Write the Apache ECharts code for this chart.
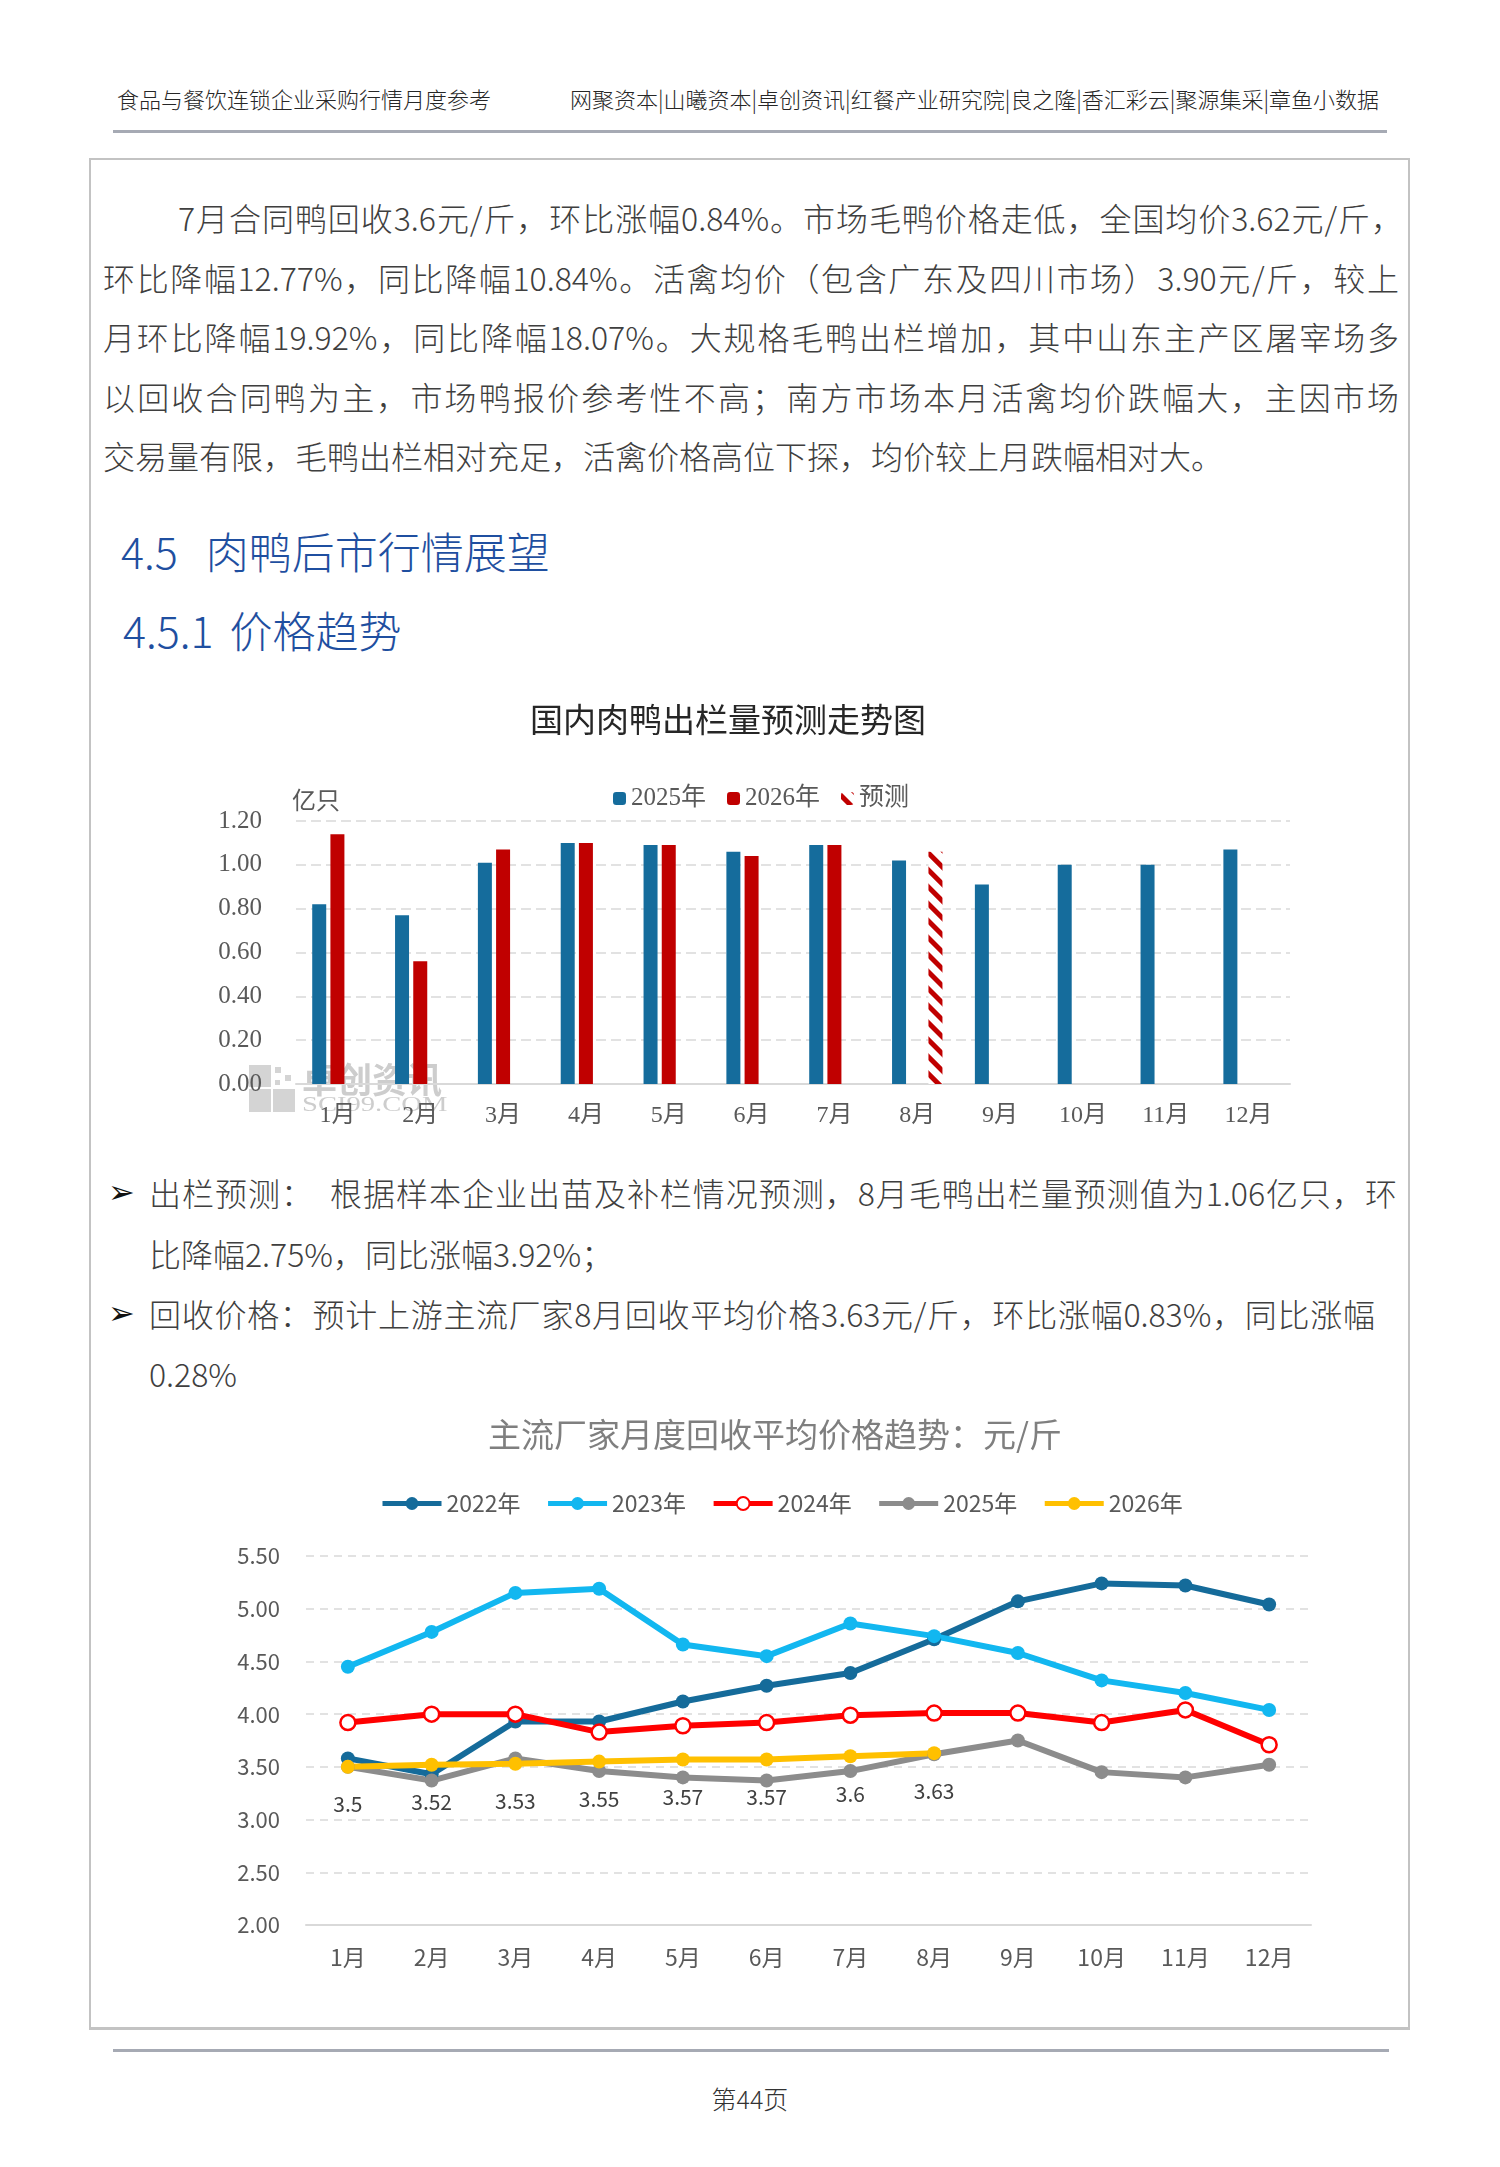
<!DOCTYPE html>
<html>
<head>
<meta charset="utf-8">
<title>肉鸭后市行情展望</title>
<script src="https://cdn.jsdelivr.net/npm/echarts@6/dist/echarts.min.js"></script>
<style>
    body { margin: 0; background: #fff; }
    #page { position: relative; width: 1500px; height: 2167px; font-family: "Noto Sans CJK SC Light", "Noto Sans CJK SC", sans-serif; font-weight: 300; color: #3f3f3f; overflow: hidden; }
    .t { position: absolute; white-space: nowrap; }
    .hd { top: 84px; font-size: 22px; line-height: 28px; color: #262626; }
    .rule { position: absolute; background: #a6aab4; height: 3px; }
    .box { position: absolute; left: 89px; top: 158px; width: 1321px; height: 1872px; box-sizing: border-box; border: 2px solid #c3c3c3; border-bottom-width: 3px; }
    .para { left: 103px; width: 1296px; font-size: 32px; line-height: 40px; text-align: justify; text-align-last: justify; }
    .h { font-size: 43px; line-height: 54px; color: #1f4fa0; }
    .bul { left: 149px; width: 1248px; font-size: 32px; line-height: 40px; text-align: justify; text-align-last: justify; }
    .arrow { left: 108px; font-size: 32px; line-height: 40px; font-family: "DejaVu Sans", sans-serif; color: #111; }
</style>
</head>
<body>
<div id="page">
    <div class="t hd" style="left:117px;">食品与餐饮连锁企业采购行情月度参考</div>
    <div class="t hd" style="right:121px;">网聚资本|山曦资本|卓创资讯|红餐产业研究院|良之隆|香汇彩云|聚源集采|章鱼小数据</div>
    <div class="rule" style="left:113px;top:130px;width:1274px;"></div>

    <div class="box"></div>

    <!-- 正文 -->
    <div class="t para" style="top:197px;padding-left:75px;width:1225px;">7月合同鸭回收3.6元/斤，环比涨幅0.84%。市场毛鸭价格走低，全国均价3.62元/斤，</div>
    <div class="t para" style="top:257px;">环比降幅12.77%，同比降幅10.84%。活禽均价（包含广东及四川市场）3.90元/斤，较上</div>
    <div class="t para" style="top:316px;">月环比降幅19.92%，同比降幅18.07%。大规格毛鸭出栏增加，其中山东主产区屠宰场多</div>
    <div class="t para" style="top:376px;">以回收合同鸭为主，市场鸭报价参考性不高；南方市场本月活禽均价跌幅大，主因市场</div>
    <div class="t para" style="top:435px;text-align-last:left;">交易量有限，毛鸭出栏相对充足，活禽价格高位下探，均价较上月跌幅相对大。</div>

    <div class="t h" style="left:121px;top:523px;">4.5<span style="margin-left:28px;">肉鸭后市行情展望</span></div>
    <div class="t h" style="left:123px;top:602px;">4.5.1<span style="margin-left:16px;">价格趋势</span></div>

    <div id="bar" style="position:absolute;left:90px;top:690px;width:1335px;height:460px;"></div>

    <div class="t arrow" style="top:1172px;">➢</div>
    <div class="t bul" style="top:1172px;">出栏预测：&nbsp;&nbsp;根据样本企业出苗及补栏情况预测，8月毛鸭出栏量预测值为1.06亿只，环</div>
    <div class="t bul" style="top:1233px;text-align-last:left;">比降幅2.75%，同比涨幅3.92%；</div>
    <div class="t arrow" style="top:1293px;">➢</div>
    <div class="t bul" style="top:1293px;width:1226px;">回收价格：预计上游主流厂家8月回收平均价格3.63元/斤，环比涨幅0.83%，同比涨幅</div>
    <div class="t bul" style="top:1353px;text-align-last:left;">0.28%</div>

    <div id="line" style="position:absolute;left:90px;top:1400px;width:1335px;height:600px;"></div>

    <div class="rule" style="left:113px;top:2049px;width:1276px;"></div>
    <div class="t" style="left:0;width:1500px;top:2082px;text-align:center;font-size:25px;line-height:32px;color:#333;">第44页</div>
</div>

<script type="text/javascript">
    // 出栏量（亿只）
    var months = ['1月', '2月', '3月', '4月', '5月', '6月', '7月', '8月', '9月', '10月', '11月', '12月'];
    var out2025 = [0.82, 0.77, 1.01, 1.10, 1.09, 1.06, 1.09, 1.02, 0.91, 1.00, 1.00, 1.07];
    var out2026 = [1.14, 0.56, 1.07, 1.10, 1.09, 1.04, 1.09, '-', '-', '-', '-', '-'];
    var outForecast = ['-', '-', '-', '-', '-', '-', '-', 1.06, '-', '-', '-', '-'];

    // 主流厂家月度回收平均价格（元/斤）
    var price2022 = [3.58, 3.43, 3.93, 3.93, 4.12, 4.27, 4.39, 4.71, 5.07, 5.24, 5.22, 5.04];
    var price2023 = [4.45, 4.78, 5.15, 5.19, 4.66, 4.55, 4.86, 4.74, 4.58, 4.32, 4.20, 4.04];
    var price2024 = [3.92, 4.00, 4.00, 3.83, 3.89, 3.92, 3.99, 4.01, 4.01, 3.92, 4.04, 3.71];
    var price2025 = [3.50, 3.37, 3.58, 3.46, 3.40, 3.37, 3.46, 3.62, 3.75, 3.45, 3.40, 3.52];
    var price2026 = [3.5, 3.52, 3.53, 3.55, 3.57, 3.57, 3.6, 3.63];

    var serif = "'Liberation Serif', 'Noto Sans CJK SC', serif";
    var sans = "'Noto Sans CJK SC', sans-serif";

    // 出栏量柱状图
    var barChart = echarts.init(document.getElementById('bar'));
    barChart.setOption({
        animation: false,
        title: {
            text: '国内肉鸭出栏量预测走势图',
            left: 435,
            top: 8,
            textStyle: { fontFamily: sans, fontSize: 33, fontWeight: 'normal', color: '#262626' }
        },
        legend: {
            left: 518,
            top: 91,
            itemWidth: 13,
            itemHeight: 13,
            itemGap: 21,
            textStyle: { fontFamily: serif, fontSize: 25, color: '#595959' },
            data: ['2025年', '2026年', '预测']
        },
        grid: { left: 206, right: 135, top: 131, bottom: 66 },
        xAxis: {
            type: 'category',
            data: months,
            axisTick: { show: false },
            axisLine: { lineStyle: { color: '#d9d9d9', width: 2 } },
            axisLabel: { fontFamily: serif, fontSize: 24, color: '#595959', margin: 20 }
        },
        yAxis: {
            type: 'value',
            min: 0,
            max: 1.2,
            interval: 0.2,
            name: '亿只',
            nameGap: 6,
            nameTextStyle: { fontFamily: serif, fontSize: 24, color: '#595959', align: 'left', padding: [0, 0, 0, -4] },
            axisLabel: {
                fontFamily: serif, fontSize: 25, color: '#595959', margin: 34,
                formatter: function (v) { return v.toFixed(2); }
            },
            splitLine: { lineStyle: { type: [10, 5], color: '#d9d9d9', width: 1.5 } }
        },
        graphic: [
            { type: 'rect', left: 159, top: 375, shape: { width: 22, height: 22 }, style: { fill: '#d4d4d4' } },
            { type: 'rect', left: 159, top: 399, shape: { width: 22, height: 23 }, style: { fill: '#d4d4d4' } },
            { type: 'rect', left: 183, top: 399, shape: { width: 22, height: 23 }, style: { fill: '#d4d4d4' } },
            { type: 'rect', left: 185, top: 377, shape: { width: 6, height: 6 }, style: { fill: '#d4d4d4' } },
            { type: 'rect', left: 195, top: 385, shape: { width: 6, height: 6 }, style: { fill: '#d4d4d4' } },
            { type: 'rect', left: 185, top: 390, shape: { width: 5, height: 5 }, style: { fill: '#d4d4d4' } },
            {
                type: 'text', left: 212, top: 372,
                style: { text: '卓创资讯', fill: '#cdcdcd', font: 'bold 35px "Noto Sans CJK SC"' }
            },
            {
                type: 'text', left: 212, top: 404, scaleX: 1.3,
                style: { text: 'SCI99.COM', fill: '#cdcdcd', font: '22px "Liberation Serif"' }
            }
        ],
        series: [
            { name: '2025年', type: 'bar', data: out2025, barWidth: 14, barGap: '30%', itemStyle: { color: '#156c9c' } },
            { name: '2026年', type: 'bar', data: out2026, barWidth: 14, barGap: '30%', itemStyle: { color: '#c00000' } },
            {
                name: '预测', type: 'bar', data: outForecast, barWidth: 14, barGap: '30%',
                itemStyle: {
                    color: '#ffffff',
                    decal: { symbol: 'rect', color: '#c00000', dashArrayX: [1, 0], dashArrayY: [5, 7], rotation: Math.PI / 4 }
                }
            }
        ]
    });

    // 回收价格折线图
    var lineChart = echarts.init(document.getElementById('line'));
    function priceSeries(name, data, color, extra) {
        var s = {
            name: name,
            type: 'line',
            data: data,
            symbol: 'circle',
            symbolSize: 14,
            lineStyle: { width: 6, color: color },
            itemStyle: { color: color }
        };
        for (var k in extra) { s[k] = extra[k]; }
        return s;
    }
    lineChart.setOption({
        animation: false,
        title: {
            text: '主流厂家月度回收平均价格趋势：元/斤',
            left: 393,
            top: 13,
            textStyle: { fontFamily: sans, fontSize: 33, fontWeight: 'normal', color: '#7f7f7f' }
        },
        legend: {
            left: 285,
            top: 87,
            itemWidth: 59,
            itemHeight: 16,
            itemGap: 25,
            lineStyle: { width: 5 },
            textStyle: { fontFamily: sans, fontSize: 23, color: '#595959' },
            data: ['2022年', '2023年', '2024年', '2025年', '2026年']
        },
        grid: { left: 216, right: 114, top: 156, bottom: 75 },
        xAxis: {
            type: 'category',
            data: months,
            axisTick: { show: false },
            axisLine: { lineStyle: { color: '#d9d9d9', width: 2 } },
            axisLabel: { fontFamily: sans, fontSize: 23, color: '#595959', margin: 21 }
        },
        yAxis: {
            type: 'value',
            min: 2,
            max: 5.5,
            interval: 0.5,
            axisLabel: {
                fontFamily: sans, fontSize: 22, color: '#595959', margin: 26,
                formatter: function (v) { return v.toFixed(2); }
            },
            splitLine: { lineStyle: { type: [8, 6], color: '#d9d9d9', width: 1.5 } }
        },
        series: [
            priceSeries('2022年', price2022, '#156b9a'),
            priceSeries('2023年', price2023, '#12b7f0'),
            priceSeries('2024年', price2024, '#ff0000', {
                symbolSize: 15,
                itemStyle: { color: '#ffffff', borderColor: '#ff0000', borderWidth: 2.5 }
            }),
            priceSeries('2025年', price2025, '#8c8c8c'),
            priceSeries('2026年', price2026, '#ffc000', {
                label: { show: true, position: 'bottom', distance: 20, fontFamily: sans, fontSize: 21, color: '#404040' }
            })
        ]
    });
</script>
</body>
</html>
